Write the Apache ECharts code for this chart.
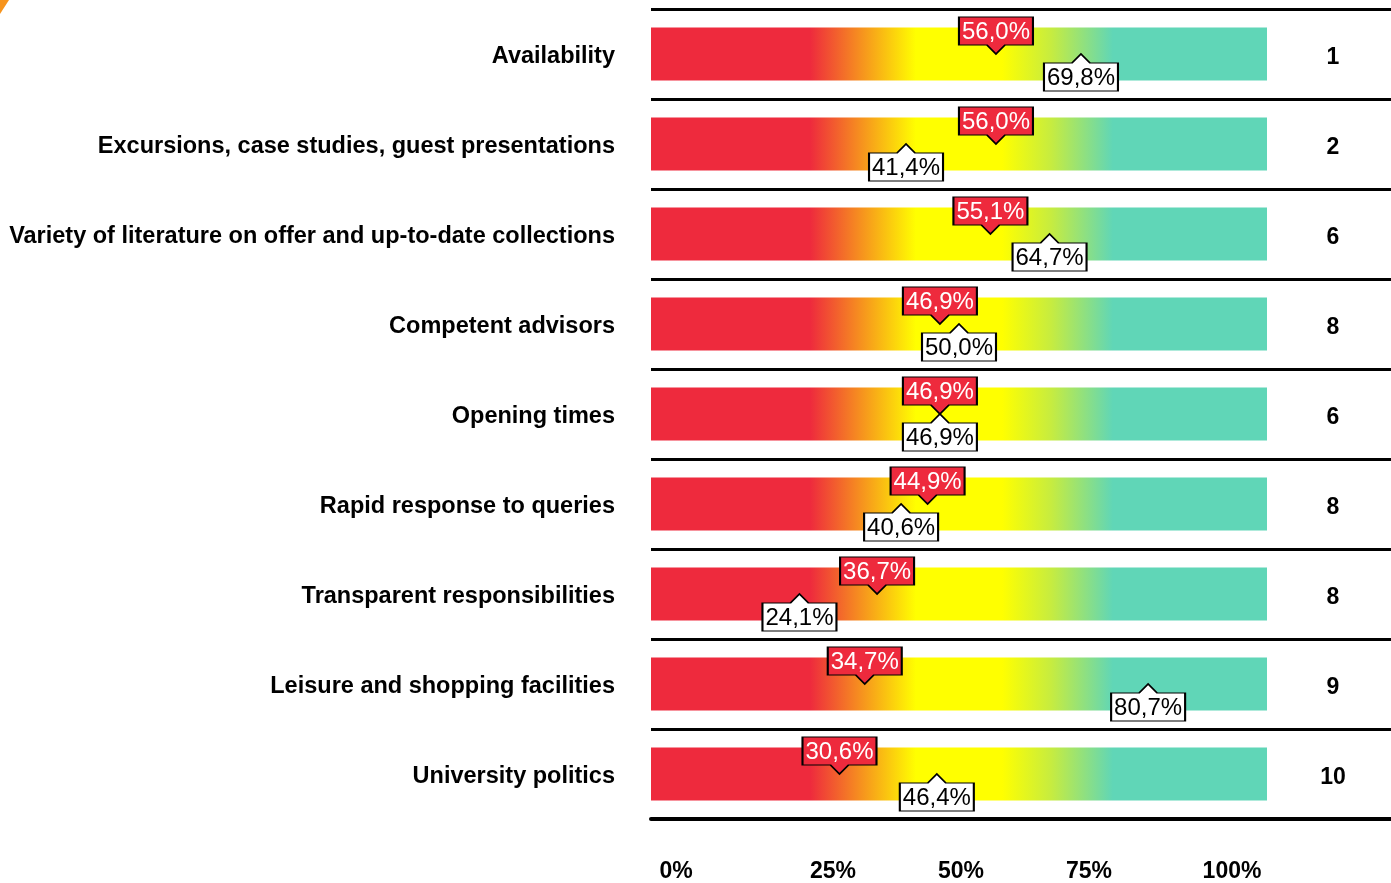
<!DOCTYPE html>
<html>
<head>
<meta charset="utf-8">
<script src="https://cdn.jsdelivr.net/npm/echarts@6/dist/echarts.min.js"></script>
<style>
  html, body { margin: 0; padding: 0; background: #fff; }
  #main { width: 1391px; height: 883px; }
</style>
</head>
<body>
<div id="main"></div>
<script>
// categories, top to bottom
var categories = [
  'Availability',
  'Excursions, case studies, guest presentations',
  'Variety of literature on offer and up-to-date collections',
  'Competent advisors',
  'Opening times',
  'Rapid response to queries',
  'Transparent responsibilities',
  'Leisure and shopping facilities',
  'University politics'
];
// red callouts (above the bar)
var redValues = [56.0, 56.0, 55.1, 46.9, 46.9, 44.9, 36.7, 34.7, 30.6];
// white callouts (below the bar)
var whiteValues = [69.8, 41.4, 64.7, 50.0, 46.9, 40.6, 24.1, 80.7, 46.4];
// rank column on the right
var ranks = ['1', '2', '6', '8', '6', '8', '8', '9', '10'];
// x axis tick labels
var tickValues = [0, 25, 50, 75, 100];
var tickLabels = ['0%', '25%', '50%', '75%', '100%'];
var scaleMax = 100;

var chart = echarts.init(document.getElementById('main'));

var labelFont = "'Liberation Sans Narrow', 'Liberation Sans', sans-serif";
var boldFont = "'Liberation Sans Narrow', 'Liberation Sans', sans-serif";

// grid runs past the bar (to the right edge) so the row lines reach it
var gridLeft = 651, barPx = 616, gridRightEdge = 1391;
var axisMax = scaleMax * (gridRightEdge - gridLeft) / barPx;

function pct(v) {
  return v.toFixed(1).replace('.', ',') + '%';
}

var barGradient = new echarts.graphic.LinearGradient(0, 0, 1, 0, [
  {offset: 0, color: '#EE2A3D'},
  {offset: 0.258, color: '#EE2A3D'},
  {offset: 0.34, color: '#F6901F'},
  {offset: 0.43, color: '#FFFF00'},
  {offset: 0.57, color: '#FFFF00'},
  {offset: 0.65, color: '#C6EC40'},
  {offset: 0.75, color: '#60D6B7'},
  {offset: 1, color: '#60D6B7'}
]);

// callout shapes: box + pointer
var downCallout = 'path://M0,0 H74 V28 H46 L37,37 L28,28 H0 Z';
var upCallout = 'path://M0,9 H28 L37,0 L46,9 H74 V37 H0 Z';

function boldText(size, pad) {
  return {fontFamily: boldFont, fontWeight: 'bold', fontSize: size, color: '#000', padding: pad};
}

// label shift per tick (rich padding), to sit like the original
var tickRich = {
  t0: boldText(23, [0, 0, 0, 50]),
  t1: boldText(23, [0, 0, 0, 56]),
  t2: boldText(23, [0, 0, 0, 4]),
  t3: boldText(23, [0, 48, 0, 0]),
  t4: boldText(23, [0, 70, 0, 0])
};

var option = {
  animation: false,
  backgroundColor: '#fff',
  grid: {left: gridLeft, right: 0, top: 9, bottom: 63},
  xAxis: {
    type: 'value',
    min: 0,
    max: axisMax,
    interval: 25,
    splitLine: {show: false},
    axisTick: {show: false},
    axisLine: {show: true, lineStyle: {color: '#000', width: 4}},
    axisLabel: {
      margin: 41,
      showMaxLabel: false,
      formatter: function (v) {
        var i = tickValues.indexOf(v);
        if (i < 0) return '';
        return '{t' + i + '|' + tickLabels[i] + '}';
      },
      rich: tickRich
    }
  },
  yAxis: [{
    type: 'category',
    inverse: true,
    data: categories,
    axisLine: {show: false},
    axisTick: {show: false},
    splitLine: {show: true, lineStyle: {color: '#000', width: 3}},
    axisLabel: {
      margin: 36,
      formatter: function (v) { return '{c|' + v + '}'; },
      rich: {c: boldText(23.5, [5, 0, 0, 0])}
    }
  }, {
    type: 'category',
    inverse: true,
    position: 'right',
    data: ranks,
    axisLine: {show: false},
    axisTick: {show: false},
    splitLine: {show: false},
    axisLabel: {
      inside: true,
      margin: 58,
      align: 'center',
      formatter: function (v) { return '{r|' + v + '}'; },
      rich: {r: boldText(23, [8, 0, 0, 0])}
    }
  }],
  series: [{
    type: 'bar',
    silent: true,
    barWidth: 53,
    data: categories.map(function () { return scaleMax; }),
    itemStyle: {color: barGradient}
  }, {
    type: 'scatter',
    silent: true,
    z: 4,
    symbol: downCallout,
    symbolSize: [74, 37],
    symbolKeepAspect: false,
    symbolOffset: [0, '-50%'],
    itemStyle: {color: '#EE2A3D', borderColor: '#000', borderWidth: 1.5, opacity: 1},
    label: {
      show: true,
      position: 'inside',
      offset: [0, -3],
      color: '#fff',
      fontFamily: labelFont,
      fontSize: 24,
      formatter: function (p) { return pct(p.value[0]); }
    },
    data: redValues.map(function (v, i) { return [v, i]; })
  }, {
    type: 'scatter',
    silent: true,
    z: 3,
    symbol: upCallout,
    symbolSize: [74, 37],
    symbolKeepAspect: false,
    symbolOffset: [0, '50%'],
    itemStyle: {color: '#fff', borderColor: '#000', borderWidth: 1.5, opacity: 1},
    label: {
      show: true,
      position: 'inside',
      offset: [0, 6],
      color: '#000',
      fontFamily: labelFont,
      fontSize: 24,
      formatter: function (p) { return pct(p.value[0]); }
    },
    data: whiteValues.map(function (v, i) { return [v, i]; })
  }],
  graphic: [{
    type: 'polygon',
    silent: true,
    shape: {points: [[0, 0], [9, 0], [0, 14]]},
    style: {fill: '#F7941D'}
  }]
};

chart.setOption(option);
</script>
</body>
</html>
